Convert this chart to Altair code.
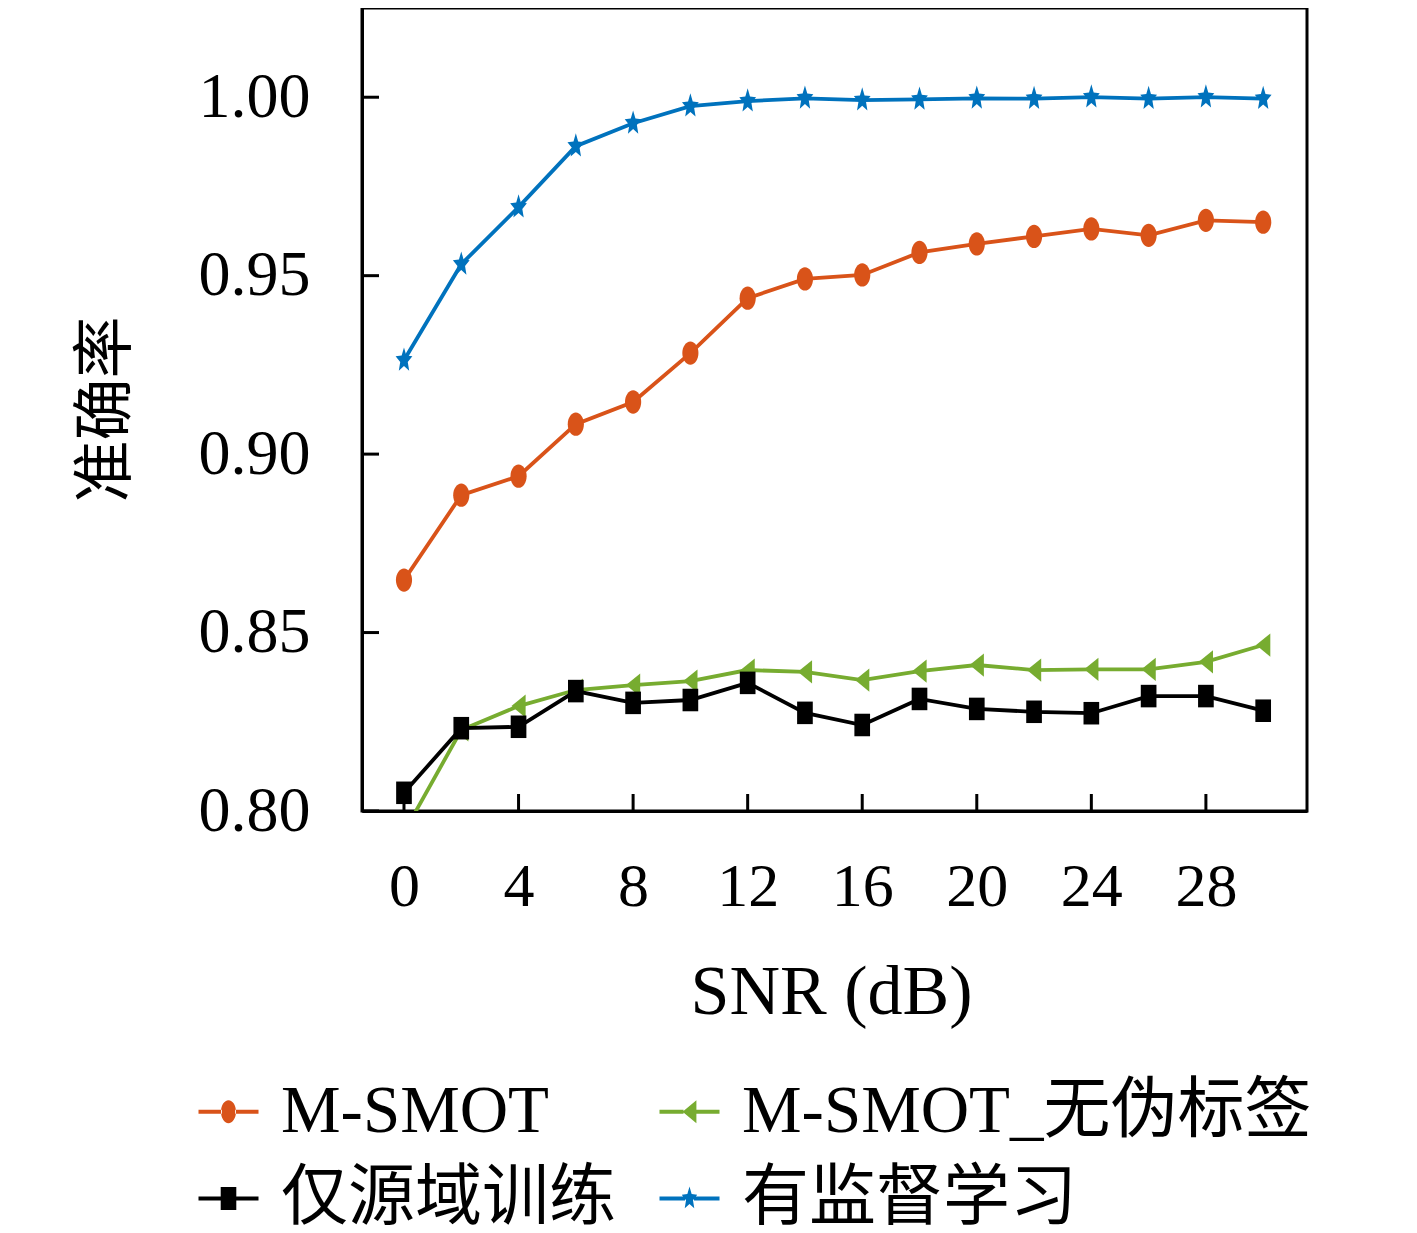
import math
import pandas as pd
import altair as alt

# ---- data ----
snr = list(range(0, 31, 2))
series_names = ["M-SMOT", "M-SMOT_无伪标签", "仅源域训练", "有监督学习"]
series_colors = ["#D95319", "#77AC30", "#000000", "#0072BD"]

acc_msmot = [0.8647, 0.8885, 0.8938, 0.9084, 0.9146, 0.9283, 0.9437, 0.9491,
             0.9502, 0.9565, 0.9589, 0.9610, 0.9631, 0.9613, 0.9655, 0.9650]
acc_no_pseudo = [0.7940, 0.8227, 0.8294, 0.8339, 0.8353, 0.8364, 0.8395, 0.8390,
                 0.8367, 0.8392, 0.8409, 0.8395, 0.8397, 0.8397, 0.8418, 0.8465]
acc_source_only = [0.8051, 0.8232, 0.8236, 0.8336, 0.8303, 0.8311, 0.8359, 0.8275,
                   0.8241, 0.8314, 0.8286, 0.8278, 0.8274, 0.8322, 0.8322, 0.8281]
acc_supervised = [0.9263, 0.9532, 0.9692, 0.9863, 0.9927, 0.9975, 0.9989, 0.9997,
                  0.9992, 0.9994, 0.9997, 0.9996, 1.0000, 0.9996, 1.0000, 0.9996]

x_ticks = [0, 4, 8, 12, 16, 20, 24, 28]
y_ticks = [0.80, 0.85, 0.90, 0.95, 1.00]

all_acc = [acc_msmot, acc_no_pseudo, acc_source_only, acc_supervised]
df = pd.DataFrame({
    "snr": snr * 4,
    "acc": [v for s in all_acc for v in s],
    "series": [n for n in series_names for _ in snr],
})

W, H = 945, 803
FONT = "Liberation Serif, Noto Sans CJK SC"


# ---- marker shapes (svg paths in unit box, stretched vertically like the source) ----
def ellipse(rx, ry):
    return f"M{-rx:.3f},0A{rx:.3f},{ry:.3f} 0 1,0 {rx:.3f},0A{rx:.3f},{ry:.3f} 0 1,0 {-rx:.3f},0Z"


def rect(rx, ry):
    return f"M{-rx:.3f},{-ry:.3f}H{rx:.3f}V{ry:.3f}H{-rx:.3f}Z"


def tri_left(rx, ry):
    return f"M{-rx:.3f},0L{rx:.3f},{-ry:.3f}L{rx:.3f},{ry:.3f}Z"


def star(rx, ry, inner=0.45):
    pts = []
    for k in range(10):
        a = -math.pi / 2 + k * math.pi / 5
        r = 1 if k % 2 == 0 else inner
        pts.append(f"{rx * r * math.cos(a):.3f},{ry * r * math.sin(a):.3f}")
    return "M" + "L".join(pts) + "Z"


def with_line(marker, half_w, t=0.067):
    left = f"M-1,{-t}H{-half_w:.3f}V{t}H-1Z"
    right = f"M{half_w:.3f},{-t}H1V{t}H{half_w:.3f}Z"
    return left + right + marker


plot_shapes = [ellipse(0.66, 0.95), tri_left(0.58, 0.95), rect(0.64, 0.92), star(0.72, 1.05)]
lr = 0.38
legend_shapes = {
    "M-SMOT": with_line(ellipse(0.25, lr), 0.22),
    "M-SMOT_无伪标签": with_line(tri_left(0.23, lr), 0.2),
    "仅源域训练": with_line(rect(0.26, lr), 0.22),
    "有监督学习": with_line(star(0.27, 0.4), 0.15),
}
# legend fills column by column: put the entries in the order that reads row by row
legend_order = ["M-SMOT", "仅源域训练", "M-SMOT_无伪标签", "有监督学习"]
legend_colors = [series_colors[series_names.index(n)] for n in legend_order]

x_scale = alt.Scale(domain=[-1.466, 31.53], nice=False, zero=False)
y_scale = alt.Scale(domain=[0.80, 1.025], nice=False, zero=False)

x_axis = alt.Axis(values=x_ticks, ticks=False, tickSize=0, grid=False,
                  labelFont=FONT, labelFontSize=62, labelColor="black", labelPadding=45,
                  title="SNR (dB)", titleFont=FONT, titleFontSize=70, titleFontWeight="normal",
                  titleColor="black", titleX=469, titleY=181, titleBaseline="middle",
                  titleAlign="center")
y_axis = alt.Axis(values=y_ticks, format=".2f", ticks=False, tickSize=0, grid=False,
                  labelFont=FONT, labelFontSize=64, labelColor="black", labelPadding=52,
                  title="准确率", titleFont=FONT, titleFontSize=62, titleFontWeight="normal",
                  titleColor="black", titleX=-256, titleY=401, titleBaseline="middle",
                  titleAlign="center", titleAngle=-90)

X = alt.X("snr:Q", scale=x_scale, axis=x_axis)
Y = alt.Y("acc:Q", scale=y_scale, axis=y_axis)

series_layers = []
for name, colour, path in zip(series_names, series_colors, plot_shapes):
    sub = alt.Chart(df).transform_filter(alt.datum.series == name)
    series_layers.append(sub.mark_line(strokeWidth=3.8, color=colour, clip=True).encode(x=X, y=Y))
    series_layers.append(
        sub.mark_point(filled=True, opacity=1, size=600, shape=path, color=colour,
                       strokeWidth=0, clip=True).encode(x=X, y=Y)
    )

# inward tick marks
x_tick_marks = alt.Chart(pd.DataFrame({"snr": x_ticks})).mark_rule(
    color="black", strokeWidth=3).encode(
    x=X, y=alt.value(H - 17), y2=alt.value(H),
)
y_tick_marks = alt.Chart(pd.DataFrame({"acc": y_ticks})).mark_rule(
    color="black", strokeWidth=3).encode(
    y=Y, x=alt.value(0), x2=alt.value(17),
)

leg = alt.Legend(title=None, orient="none", legendX=-167, legendY=1070, columns=2,
                 columnPadding=40, rowPadding=19, symbolSize=3600, symbolStrokeWidth=0,
                 symbolOpacity=1, labelFont=FONT, labelFontSize=67, labelColor="black",
                 labelOffset=19, labelLimit=800, padding=0)

legend_layer = alt.Chart(df).transform_filter(alt.datum.snr < -100).mark_point(
    filled=True, opacity=1, size=3600).encode(
    x=X, y=Y,
    color=alt.Color("series:N", scale=alt.Scale(domain=legend_order, range=legend_colors),
                    sort=legend_order, legend=leg),
    shape=alt.Shape("series:N",
                    scale=alt.Scale(domain=legend_order,
                                    range=[legend_shapes[n] for n in legend_order]),
                    sort=legend_order, legend=leg),
)

chart = alt.layer(*series_layers, x_tick_marks, y_tick_marks, legend_layer).properties(
    width=W, height=H, autosize="none",
    padding={"left": 354, "top": 0, "right": 40, "bottom": 420},
    background="white",
).configure_view(
    stroke="black", strokeWidth=3
).configure_axis(
    domainColor="black", domainWidth=3
)

chart.save("out.html", embed_options={"renderer": "svg", "actions": False})
